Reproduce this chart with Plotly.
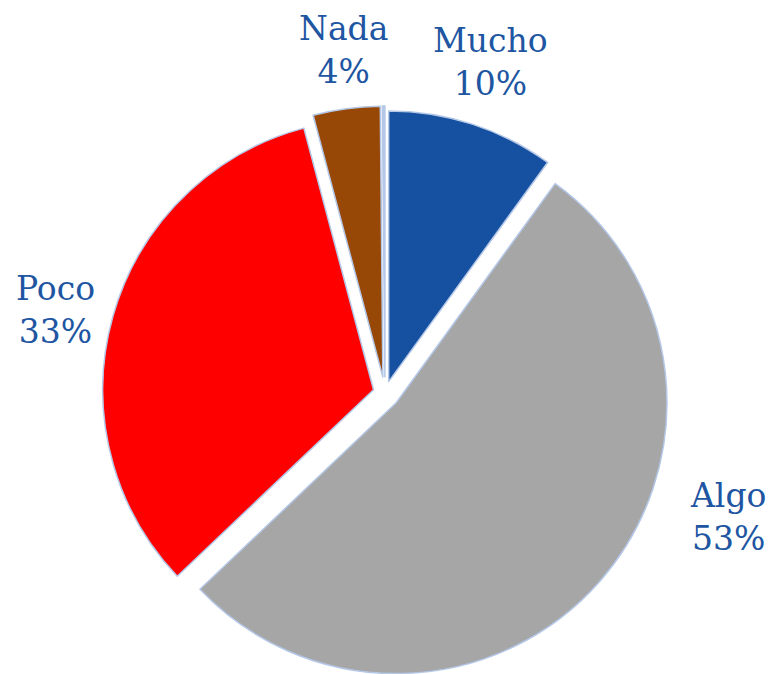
import plotly.graph_objects as go

categories = ["Mucho", "Algo", "Poco", "Nada", ""]
values = [10, 53, 33, 4, 0.15]
colors = ["#1551A0", "#A6A6A6", "#FF0000", "#974706", "#B4C7E7"]
pulls = [0.044, 0.055, 0.044, 0.06, 0.06]

# label anchor positions in pixels (x, y, horizontal anchor)
W, H = 771, 680
label_px = {
    "Mucho": (491, 62, "center"),
    "Algo": (768, 517, "right"),
    "Poco": (14, 310, "left"),
    "Nada": (343, 50, "center"),
}

fig = go.Figure(go.Pie(
    labels=categories, values=values, sort=False, direction="clockwise", rotation=0,
    marker=dict(colors=colors, line=dict(color="#B4C7E7", width=1.5)),
    pull=pulls, textinfo="none", hoverinfo="label+percent",
    domain=dict(x=[0.1271, 0.8716], y=[0.0, 574 / H]),
))

for cat, val in zip(categories, values):
    if cat in label_px:
        px, py, anc = label_px[cat]
        fig.add_annotation(
            x=px / W, y=1 - py / H, xref="paper", yref="paper",
            text=f"{cat}<br>{val:g}%", showarrow=False,
            xanchor=anc, yanchor="middle", align="center",
            font=dict(family="DejaVu Serif", size=33, color="#2055A2"),
        )

fig.update_layout(
    width=W, height=H, margin=dict(l=0, r=0, t=0, b=0),
    paper_bgcolor="white", plot_bgcolor="white", showlegend=False,
)
fig.write_html(
    "out.html",
    config={"displayModeBar": False},
    post_script="document.body.style.margin='0';document.body.style.overflow='hidden';",
)
